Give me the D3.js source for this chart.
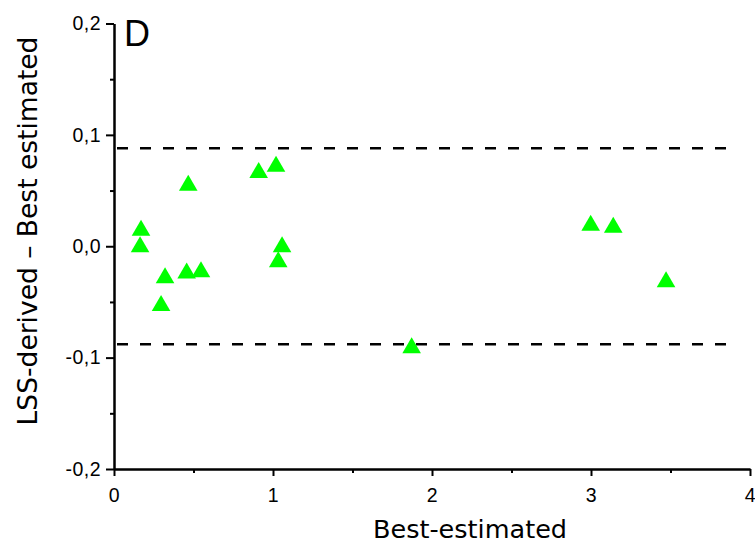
<!DOCTYPE html>
<html>
<head>
<meta charset="utf-8">
<script src="https://cdn.jsdelivr.net/npm/d3@7"></script>
<style>
  html, body { margin: 0; padding: 0; background: #fff; }
  svg { display: block; }
</style>
</head>
<body>
<svg id="chart" width="755" height="546"></svg>
<script>
// ---- data ----
const bestEstimated = [0.170, 0.164, 0.321, 0.296, 0.467, 0.457, 0.547, 0.910, 1.019, 1.057, 1.033, 1.872, 2.998, 3.140, 3.472];
const difference    = [0.0166, 0.0018, -0.026, -0.051, 0.057, -0.0217, -0.0206, 0.0685, 0.0741, 0.0018, -0.0116, -0.0889, 0.0212, 0.0193, -0.0296];
const limitsOfAgreement = [0.088, -0.088];
const limitLineRange = [0, 3.86];
const xTicks = [0, 1, 2, 3, 4];
const xMinorTicks = [0.5, 1.5, 2.5, 3.5];
const yTicks = [-0.2, -0.1, 0, 0.1, 0.2];
const yMinorTicks = [-0.15, -0.05, 0.05, 0.15];
const xTitle = "Best-estimated";
const yTitle = "LSS-derived \u2013 Best estimated";
const panelLabel = "D";

// ---- layout ----
const W = 755, H = 546;
const margin = { top: 23.5, right: 5, bottom: 77, left: 114 };
const svg = d3.select("#chart");

const x = d3.scaleLinear().domain([0, 4]).range([margin.left, W - margin.right]);
const y = d3.scaleLinear().domain([-0.2, 0.2]).range([H - margin.bottom, margin.top]);

const tickFont = "'Liberation Sans', Arial, sans-serif";
const titleFont = "'DejaVu Sans', Verdana, sans-serif";

// limit lines
svg.append("g").selectAll("line")
  .data(limitsOfAgreement)
  .join("line")
  .attr("x1", x(limitLineRange[0]) + 3)
  .attr("x2", x(limitLineRange[1]))
  .attr("y1", d => y(d))
  .attr("y2", d => y(d))
  .attr("stroke", "#000")
  .attr("stroke-width", 2.6)
  .attr("stroke-dasharray", "11,12");

// axes
const xAxis = d3.axisBottom(x).tickValues(xTicks).tickFormat(d => String(d)).tickSize(7).tickSizeOuter(0).tickPadding(12);
const xMinor = d3.axisBottom(x).tickValues(xMinorTicks).tickFormat("").tickSize(4).tickSizeOuter(0);
const yAxis = d3.axisLeft(y).tickValues(yTicks).tickFormat(d => d.toFixed(1).replace(".", ",")).tickSize(8).tickSizeOuter(0).tickPadding(5);
const yMinor = d3.axisLeft(y).tickValues(yMinorTicks).tickFormat("").tickSize(4).tickSizeOuter(0);

function styleAxis(g) {
  g.selectAll("path.domain").attr("stroke", "#000").attr("stroke-width", 2);
  g.selectAll(".tick line").attr("stroke", "#000").attr("stroke-width", 2);
  g.selectAll(".tick text").attr("fill", "#000").style("font-family", tickFont).style("font-size", "19.5px").style("letter-spacing", "0.5px");
}

svg.append("g").attr("transform", `translate(0,${H - margin.bottom})`).call(xMinor).call(styleAxis);
svg.append("g").attr("transform", `translate(0,${H - margin.bottom})`).call(xAxis).call(styleAxis);
svg.append("g").attr("transform", `translate(${margin.left},0)`).call(yMinor).call(styleAxis);
svg.append("g").attr("transform", `translate(${margin.left},0)`).call(yAxis).call(styleAxis);

// points (triangles)
const tri = "M0,-8 L9.3,8 L-9.3,8 Z";
svg.append("g").selectAll("path")
  .data(d3.range(bestEstimated.length))
  .join("path")
  .attr("d", tri)
  .attr("transform", i => `translate(${x(bestEstimated[i])},${y(difference[i])})`)
  .attr("fill", "#00ff00");

// titles
svg.append("text")
  .attr("x", 470).attr("y", 538)
  .attr("text-anchor", "middle")
  .style("font-family", titleFont).style("font-size", "25.5px")
  .text(xTitle);

svg.append("text")
  .attr("transform", `translate(37,231) rotate(-90)`)
  .attr("text-anchor", "middle")
  .style("font-family", titleFont).style("font-size", "26.5px")
  .text(yTitle);

svg.append("text")
  .attr("x", 124).attr("y", 46)
  .style("font-family", tickFont).style("font-size", "36px")
  .text(panelLabel);
</script>
</body>
</html>
